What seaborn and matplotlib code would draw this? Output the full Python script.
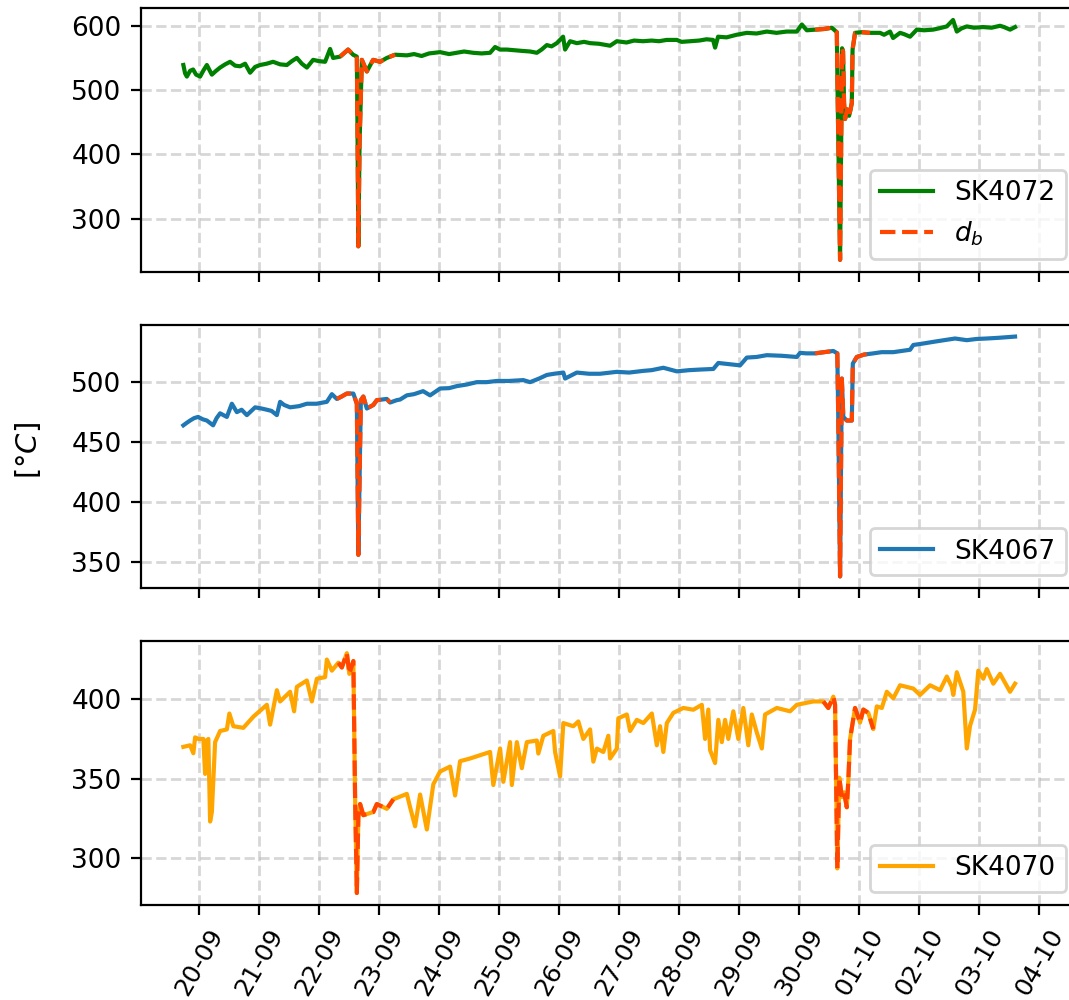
import numpy as np
import pandas as pd
import matplotlib
matplotlib.use("Agg")
import matplotlib.pyplot as plt
import matplotlib.dates as mdates
import matplotlib.ticker as mticker
import seaborn as sns

# ---- data: hours since 20-09 00:00, temperature [°C] ----
sk4072_hours = [-6.3, -5.6, -4.9, -3.6, -2.4, -1.2, 0.4, 1.8, 3.1, 5.1, 6.8, 8.4, 10.4, 12.4, 14.4,
                16.4, 18.4, 20.4, 22.4, 24.4, 27.0, 29.6, 32.4, 35.1, 37.1, 39.1, 41.1, 43.1,
                45.6, 48.0, 50.4, 52.4, 53.6, 56.4, 59.6, 61.6, 63.1, 63.4, 63.7, 64.2, 65.1,
                67.1, 69.6, 72.4, 75.1, 78.4, 83.1, 86.0, 89.0, 92.0, 96.4, 100.0, 103.0, 106.0,
                109.6, 113.0, 116.4, 118.4, 120.4, 123.1, 126.0, 129.0, 132.4, 135.1, 137.0,
                139.1, 141.0, 143.1, 145.6, 146.4, 148.4, 151.1, 154.0, 156.4, 160.0, 164.4,
                167.1, 171.0, 174.0, 177.6, 181.0, 184.0, 187.0, 191.1, 193.0, 196.4, 200.0,
                203.0, 205.6, 206.4, 207.6, 211.0, 215.0, 219.1, 223.0, 227.1, 231.0, 235.0,
                239.1, 241.1, 243.1, 246.4, 250.0, 253.1, 255.1, 255.4, 256.4, 256.8, 257.2,
                257.6, 258.0, 258.4, 259.2, 260.0, 260.6, 261.1, 261.4, 262.4, 265.0, 268.4,
                272.4, 274.0, 276.4, 277.6, 280.4, 282.0, 284.4, 287.1, 290.0, 293.6, 296.0,
                299.1, 301.6, 303.1, 305.0, 307.1, 310.0, 313.6, 317.0, 320.4, 322.0, 324.4,
                326.4]
sk4072_vals = [539, 526, 521, 530, 532, 524, 521, 531, 539, 524, 530, 535, 540, 544, 538,
               537, 541, 527, 536, 539, 541, 544, 540, 539, 545, 550, 541, 535,
               547, 545, 544, 564, 550, 552, 563, 555, 552, 420, 257, 420, 547,
               529, 547, 544, 550, 555, 554, 556, 553, 557, 559, 556, 558, 560,
               558, 557, 558, 567, 563, 563, 562, 561, 560, 558, 563,
               570, 568, 573, 583, 563, 576, 573, 575, 573, 572, 569,
               576, 574, 577, 576, 577, 576, 578, 578, 575, 576, 577,
               579, 578, 566, 583, 582, 586, 589, 588, 591, 589, 591,
               591, 602, 593, 594, 595, 597, 590, 500, 236, 400, 565,
               560, 480, 455, 470, 460, 470, 480, 563, 589, 590, 589,
               589, 586, 591, 581, 589, 587, 583, 594, 593, 594, 596,
               599, 609, 591, 596, 599, 597, 598, 597, 600, 598, 594,
               598]

sk4067_hours = [-6.3, -5.0, -3.6, -2.0, -0.4, 1.5, 3.1, 5.6, 7.0, 8.4, 11.1, 13.1, 15.1, 17.0,
                19.1, 22.4, 25.0, 27.1, 29.0, 31.1, 32.4, 34.0, 36.4, 40.0, 43.1, 47.0, 51.1,
                53.1, 55.1, 57.0, 59.1, 61.7, 63.1, 63.7, 64.7, 65.7, 67.1, 69.7, 71.1, 75.1,
                76.4, 79.1, 80.4, 83.1, 86.0, 89.6, 92.4, 96.4, 100.0, 103.1, 107.0, 111.1,
                115.0, 119.1, 124.0, 129.7, 132.4, 136.0, 139.1, 142.0, 145.7, 146.4, 151.1,
                156.0, 160.4, 167.1, 172.0, 177.7, 181.0, 185.7, 191.1, 196.0, 200.4, 205.7,
                207.7, 212.0, 216.4, 219.1, 223.0, 227.1, 233.0, 239.1, 240.4, 243.0, 246.4,
                250.0, 253.7, 255.3, 255.7, 256.4, 257.1, 257.7, 259.1, 261.1, 261.5, 263.1,
                266.0, 269.7, 273.0, 277.7, 281.0, 284.4, 285.7, 289.0, 293.7, 298.0, 302.4,
                307.1, 311.0, 315.1, 320.0, 326.4]
sk4067_vals = [464, 466, 468, 470, 471, 469, 468, 464, 470, 474, 471, 482, 475, 477,
               472.5, 479, 478, 477, 476, 472.5, 483.6, 481, 479, 480, 482, 482, 483.6,
               490, 486, 488, 490.5, 490.5, 482, 356, 485, 488, 478, 481, 485, 486,
               483, 485, 485.5, 489, 490, 492.5, 489, 494.7, 495, 496.7, 498, 500,
               500, 501, 501, 501.7, 500, 503, 506, 507, 508, 503, 508,
               507, 507, 508.6, 508, 509.4, 510, 512, 509, 510, 510.5, 511,
               516, 515, 514, 520.5, 521, 522.5, 522, 521, 524.4, 524, 524,
               525, 526, 524, 468, 338, 503, 471, 468, 468, 515.5, 521,
               523, 524, 525, 525, 526, 527, 531, 532, 533.6, 535, 536.4,
               535, 536, 536.4, 537, 538]

sk4070_hours = [-6.3, -3.6, -2.3, -1.6, -0.3, 1.7, 2.4, 3.1, 3.7, 4.4, 5.1, 6.4, 8.4, 11.1,
                12.1, 13.7, 17.7, 21.7, 27.1, 28.4, 31.1, 32.4, 36.4, 38.0, 39.1, 43.1, 45.1,
                47.1, 50.4, 51.1, 53.1, 55.7, 57.1, 59.1, 60.1, 61.7, 62.4, 63.1, 63.7, 64.4,
                65.7, 69.7, 71.1, 75.1, 77.7, 83.1, 84.4, 86.4, 88.4, 91.1, 93.7, 96.4, 100.4,
                102.4, 104.4, 108.4, 116.4, 117.7, 120.4, 121.7, 124.4, 125.1, 127.1, 129.1,
                131.1, 135.1, 135.7, 137.7, 141.7, 142.4, 144.4, 145.7, 149.7, 151.7, 153.7,
                156.4, 157.7, 159.1, 161.7, 163.7, 164.4, 167.1, 167.7, 171.1, 172.4, 175.1,
                177.7, 181.1, 183.1, 184.4, 185.7, 187.1, 189.7, 193.7, 197.7, 201.1, 202.4,
                203.7, 204.4, 206.4, 207.7, 209.1, 210.4, 211.7, 213.7, 215.7, 217.7, 219.7,
                221.1, 223.1, 225.1, 226.4, 231.1, 236.4, 239.1, 245.7, 249.7, 251.7, 253.7,
                254.4, 254.8, 255.3, 256.1, 257.1, 258.0, 259.1, 259.7, 260.4, 262.4, 264.4,
                265.7, 267.7, 269.7, 271.1, 273.1, 275.1, 277.7, 280.4, 285.7, 288.4, 292.4,
                296.4, 299.1, 301.1, 301.7, 303.1, 305.7, 307.1, 308.4, 310.4, 311.7, 313.7,
                315.1, 317.7, 320.4, 324.4, 326.4]
sk4070_vals = [370, 371, 366, 376, 375, 375, 353, 374, 375, 323, 329, 373, 380, 381,
               391, 383, 382, 389, 396.5, 384, 405.7, 398.6, 404.7, 392.4, 407.8, 411.8, 398.6,
               412.9, 413.9, 425, 418, 423, 420, 429, 416, 424, 338, 278, 326, 334,
               327, 329, 334, 331, 337, 340.4, 332, 320, 340, 318, 346.5, 354.5, 357.6,
               339.4, 361, 362.7, 366.8, 346, 369, 348, 373, 346, 373, 356.6,
               373, 374, 365.8, 377, 380, 366.8, 351.4, 385, 383, 386, 375,
               381, 360.7, 368.9, 366.8, 377, 362.7, 368.9, 388, 390.4, 380, 387,
               385, 391, 371, 383, 366.8, 385, 391.4, 394.5, 393.4, 396.5, 375,
               393.5, 368, 359.8, 387, 373, 387, 375, 392.4, 375, 394.5, 371,
               390.4, 379, 369, 390.4, 394.5, 392.4, 396.5, 398.6, 398.6, 394.5, 401.6,
               396.5, 350.6, 293.5, 350.6, 338.4, 341.4, 332, 348.6, 375, 394.5, 385.3,
               393.5, 391.4, 381.2, 395.5, 394.5, 404.7, 400.6, 408.8, 406.7, 402.7, 408.8,
               405.7, 414.3, 407.8, 402.7, 417, 404.7, 369, 383.3, 393.5, 418, 412.9,
               419, 409.8, 416, 404.7, 409.8]

# d_b intervals (hours since 20-09 00:00)
db_start_hours = [55.0, 246.0]
db_end_hours = [79.0, 270.0]

series_names = ["SK4072", "SK4067", "SK4070"]
series_colors = ["green", "#1f77b4", "orange"]
db_color = "orangered"
y_steps = [100, 50, 50]

base = pd.Timestamp("2021-09-20 00:00")


def to_df(hours, vals):
    return pd.DataFrame({"time": base + pd.to_timedelta(hours, unit="h"),
                         "hours": hours, "value": vals})


frames = [to_df(sk4072_hours, sk4072_vals),
          to_df(sk4067_hours, sk4067_vals),
          to_df(sk4070_hours, sk4070_vals)]

plt.rcParams["font.size"] = 9.5
fig, axes = plt.subplots(3, 1, figsize=(5.345, 5.0), dpi=200, sharex=True)
fig.subplots_adjust(left=0.132, right=1.0094, top=0.992, bottom=0.095, hspace=0.2)

for i, (ax, df, name, col) in enumerate(zip(axes, frames, series_names, series_colors)):
    sns.lineplot(data=df, x="time", y="value", ax=ax, color=col, lw=1.5,
                 label=name, estimator=None, zorder=2)
    for k, (s, e) in enumerate(zip(db_start_hours, db_end_hours)):
        seg = df[(df["hours"] >= s) & (df["hours"] <= e)]
        lab = "$d_b$" if (i == 0 and k == 0) else "_nolegend_"
        sns.lineplot(data=seg, x="time", y="value", ax=ax, color=db_color, lw=1.5,
                     linestyle="--", label=lab, estimator=None, zorder=3)
    ax.yaxis.set_major_locator(mticker.MultipleLocator(y_steps[i]))
    ax.grid(True, linestyle="--", linewidth=1.0, color="#b0b0b0", alpha=0.5)
    ax.set_axisbelow(True)
    ax.set_xlabel("")
    ax.set_ylabel("")
    ax.legend(loc="lower right")
    for sp in ax.spines.values():
        sp.set_color("black")

axes[-1].set_xlim(base - pd.Timedelta(hours=23.2), base + pd.Timedelta(hours=352))
axes[-1].xaxis.set_major_locator(mdates.DayLocator())
axes[-1].xaxis.set_major_formatter(mdates.DateFormatter("%d-%m"))
axes[-1].tick_params(axis="x", labelsize=9.0)
for lbl in axes[-1].get_xticklabels():
    lbl.set_rotation(60)
    lbl.set_ha("center")

fig.text(0.026, 0.55, "[$°C$]", rotation=90, ha="center", va="center",
         fontsize=10.5)

fig.savefig("out.png", dpi=200)
